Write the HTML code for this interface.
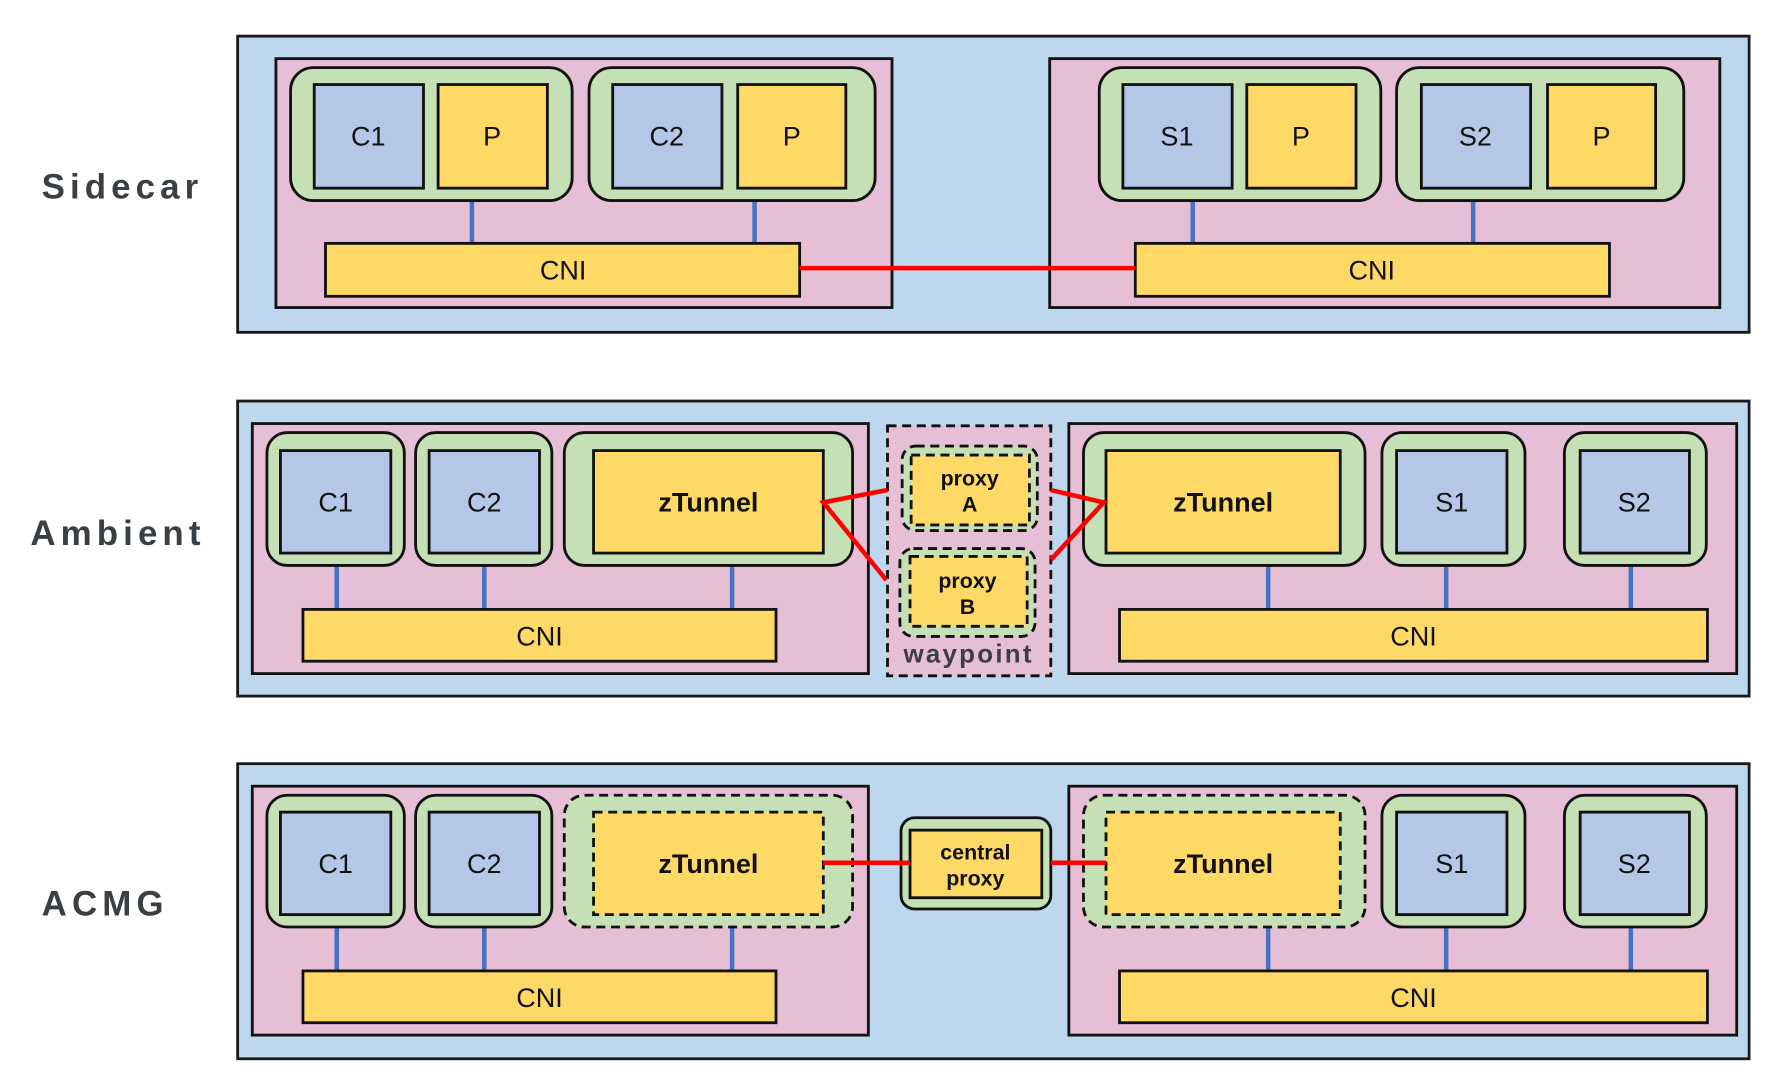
<!DOCTYPE html>
<html><head><meta charset="utf-8"><style>
html,body{margin:0;padding:0;background:#fff;}
svg{display:block;}
text{font-family:"Liberation Sans",sans-serif;}
</style></head><body>
<svg width="1766" height="1078" viewBox="0 0 1568 957" xmlns="http://www.w3.org/2000/svg">
<defs>
<style>
.ob{fill:#bdd7ee;stroke:#1a1a1a;stroke-width:2.5}
.pk{fill:#e6bfd6;stroke:#111;stroke-width:2.5}
.gr{fill:#c5e0b4;stroke:#111;stroke-width:2.5}
.grd{fill:#c5e0b4;stroke:#111;stroke-width:2.5;stroke-dasharray:8 5}
.bl{fill:#b4c7e7;stroke:#111;stroke-width:2.5}
.ye{fill:#ffd966;stroke:#111;stroke-width:2.5}
.yed{fill:#ffd966;stroke:#111;stroke-width:2.5;stroke-dasharray:8 5}
.ln{stroke:#4472c4;stroke-width:4}
.rd{stroke:#ff0000;stroke-width:4;fill:none}
.t{font-size:24px;fill:#111;text-anchor:middle;dominant-baseline:central}
.tb{font-size:24px;fill:#111;text-anchor:middle;dominant-baseline:central;font-weight:bold}
.ts{font-size:19px;fill:#111;text-anchor:middle;font-weight:bold}
.lab{font-size:31px;fill:#3a3f44;font-weight:bold;letter-spacing:4.5px}
</style>
</defs>

<!-- Sidecar -->
<text class="lab" x="37" y="176">Sidecar</text>
<rect class="ob" x="211" y="32" width="1342" height="263"/>
<rect class="pk" x="245" y="52" width="547" height="221"/>
<rect class="pk" x="932" y="52" width="595" height="221"/>
<line class="ln" x1="419" y1="178" x2="419" y2="216"/>
<line class="ln" x1="670" y1="178" x2="670" y2="216"/>
<line class="ln" x1="1059" y1="178" x2="1059" y2="216"/>
<line class="ln" x1="1308" y1="178" x2="1308" y2="216"/>
<rect class="gr" x="258" y="60" width="250" height="118" rx="20"/>
<rect class="bl" x="279" y="75" width="97" height="92"/><text class="t" x="327" y="121">C1</text>
<rect class="ye" x="389" y="75" width="97" height="92"/><text class="t" x="437" y="121">P</text>
<rect class="gr" x="523" y="60" width="254" height="118" rx="20"/>
<rect class="bl" x="544" y="75" width="97" height="92"/><text class="t" x="592" y="121">C2</text>
<rect class="ye" x="655" y="75" width="96" height="92"/><text class="t" x="703" y="121">P</text>
<rect class="gr" x="976" y="60" width="250" height="118" rx="20"/>
<rect class="bl" x="997" y="75" width="97" height="92"/><text class="t" x="1045" y="121">S1</text>
<rect class="ye" x="1107" y="75" width="97" height="92"/><text class="t" x="1155" y="121">P</text>
<rect class="gr" x="1240" y="60" width="255" height="118" rx="20"/>
<rect class="bl" x="1262" y="75" width="97" height="92"/><text class="t" x="1310" y="121">S2</text>
<rect class="ye" x="1374" y="75" width="96" height="92"/><text class="t" x="1422" y="121">P</text>
<rect class="ye" x="289" y="216" width="421" height="47"/><text class="t" x="500" y="240">CNI</text>
<rect class="ye" x="1008" y="216" width="421" height="47"/><text class="t" x="1218" y="240">CNI</text>
<line class="rd" x1="710" y1="238" x2="1008" y2="238"/>

<!-- Ambient -->
<text class="lab" x="27" y="484">Ambient</text>
<rect class="ob" x="211" y="356" width="1342" height="262"/>
<rect class="pk" x="224" y="376" width="547" height="222"/>
<rect class="pk" x="949" y="376" width="593" height="222"/>
<line class="ln" x1="299" y1="502" x2="299" y2="541"/>
<line class="ln" x1="430" y1="502" x2="430" y2="541"/>
<line class="ln" x1="650" y1="502" x2="650" y2="541"/>
<line class="ln" x1="1126" y1="502" x2="1126" y2="541"/>
<line class="ln" x1="1284" y1="502" x2="1284" y2="541"/>
<line class="ln" x1="1448" y1="502" x2="1448" y2="541"/>
<rect class="gr" x="237" y="384" width="122" height="118" rx="18"/>
<rect class="bl" x="249" y="400" width="98" height="91"/><text class="t" x="298" y="446">C1</text>
<rect class="gr" x="369" y="384" width="121" height="118" rx="18"/>
<rect class="bl" x="381" y="400" width="98" height="91"/><text class="t" x="430" y="446">C2</text>
<rect class="gr" x="501" y="384" width="256" height="118" rx="18"/>
<rect class="ye" x="527" y="400" width="204" height="91"/><text class="tb" x="629" y="446">zTunnel</text>
<rect class="ye" x="269" y="541" width="420" height="46"/><text class="t" x="479" y="565">CNI</text>
<rect class="gr" x="962" y="384" width="250" height="118" rx="18"/>
<rect class="ye" x="982" y="400" width="208" height="91"/><text class="tb" x="1086" y="446">zTunnel</text>
<rect class="gr" x="1227" y="384" width="127" height="118" rx="18"/>
<rect class="bl" x="1240" y="400" width="98" height="91"/><text class="t" x="1289" y="446">S1</text>
<rect class="gr" x="1389" y="384" width="126" height="118" rx="18"/>
<rect class="bl" x="1403" y="400" width="97" height="91"/><text class="t" x="1451" y="446">S2</text>
<rect class="ye" x="994" y="541" width="522" height="46"/><text class="t" x="1255" y="565">CNI</text>
<!-- waypoint -->
<rect x="788" y="378" width="145" height="222" fill="#e6bfd6" stroke="#111" stroke-width="2.5" stroke-dasharray="8 5"/>
<rect class="grd" x="801" y="396" width="120" height="75" rx="12"/>
<rect class="yed" x="809" y="404" width="105" height="62"/>
<text class="ts" x="861" y="431">proxy</text><text class="ts" x="861" y="454">A</text>
<rect class="grd" x="799" y="487" width="120" height="78" rx="12"/>
<rect class="yed" x="808" y="494" width="104" height="62"/>
<text class="ts" x="859" y="522">proxy</text><text class="ts" x="859" y="545">B</text>
<text x="860" y="588" font-size="23" font-weight="bold" fill="#3a3f44" text-anchor="middle" letter-spacing="2" font-family="Liberation Sans, sans-serif">waypoint</text>
<polyline class="rd" points="788,435 731,446 787,515"/>
<polyline class="rd" points="933,435 980,446 933,497"/>

<!-- ACMG -->
<text class="lab" x="37" y="813">ACMG</text>
<rect class="ob" x="211" y="678" width="1342" height="262"/>
<rect class="pk" x="224" y="698" width="547" height="221"/>
<rect class="pk" x="949" y="698" width="593" height="221"/>
<line class="ln" x1="299" y1="823" x2="299" y2="862"/>
<line class="ln" x1="430" y1="823" x2="430" y2="862"/>
<line class="ln" x1="650" y1="823" x2="650" y2="862"/>
<line class="ln" x1="1126" y1="823" x2="1126" y2="862"/>
<line class="ln" x1="1284" y1="823" x2="1284" y2="862"/>
<line class="ln" x1="1448" y1="823" x2="1448" y2="862"/>
<rect class="gr" x="237" y="706" width="122" height="117" rx="18"/>
<rect class="bl" x="249" y="721" width="98" height="91"/><text class="t" x="298" y="767">C1</text>
<rect class="gr" x="369" y="706" width="121" height="117" rx="18"/>
<rect class="bl" x="381" y="721" width="98" height="91"/><text class="t" x="430" y="767">C2</text>
<rect class="grd" x="501" y="706" width="256" height="117" rx="18"/>
<rect class="yed" x="527" y="721" width="204" height="91"/><text class="tb" x="629" y="767">zTunnel</text>
<rect class="ye" x="269" y="862" width="420" height="46"/><text class="t" x="479" y="886">CNI</text>
<rect class="grd" x="962" y="706" width="250" height="117" rx="18"/>
<rect class="yed" x="982" y="721" width="208" height="91"/><text class="tb" x="1086" y="767">zTunnel</text>
<rect class="gr" x="1227" y="706" width="127" height="117" rx="18"/>
<rect class="bl" x="1240" y="721" width="98" height="91"/><text class="t" x="1289" y="767">S1</text>
<rect class="gr" x="1389" y="706" width="126" height="117" rx="18"/>
<rect class="bl" x="1403" y="721" width="97" height="91"/><text class="t" x="1451" y="767">S2</text>
<rect class="ye" x="994" y="862" width="522" height="46"/><text class="t" x="1255" y="886">CNI</text>
<rect class="gr" x="800" y="726" width="133" height="81" rx="12"/>
<rect class="ye" x="808" y="737" width="117" height="60"/>
<text class="ts" x="866" y="763">central</text><text class="ts" x="866" y="786">proxy</text>
<line class="rd" x1="731" y1="766" x2="808" y2="766"/>
<line class="rd" x1="933" y1="766" x2="982" y2="766"/>
</svg>
</body></html>
